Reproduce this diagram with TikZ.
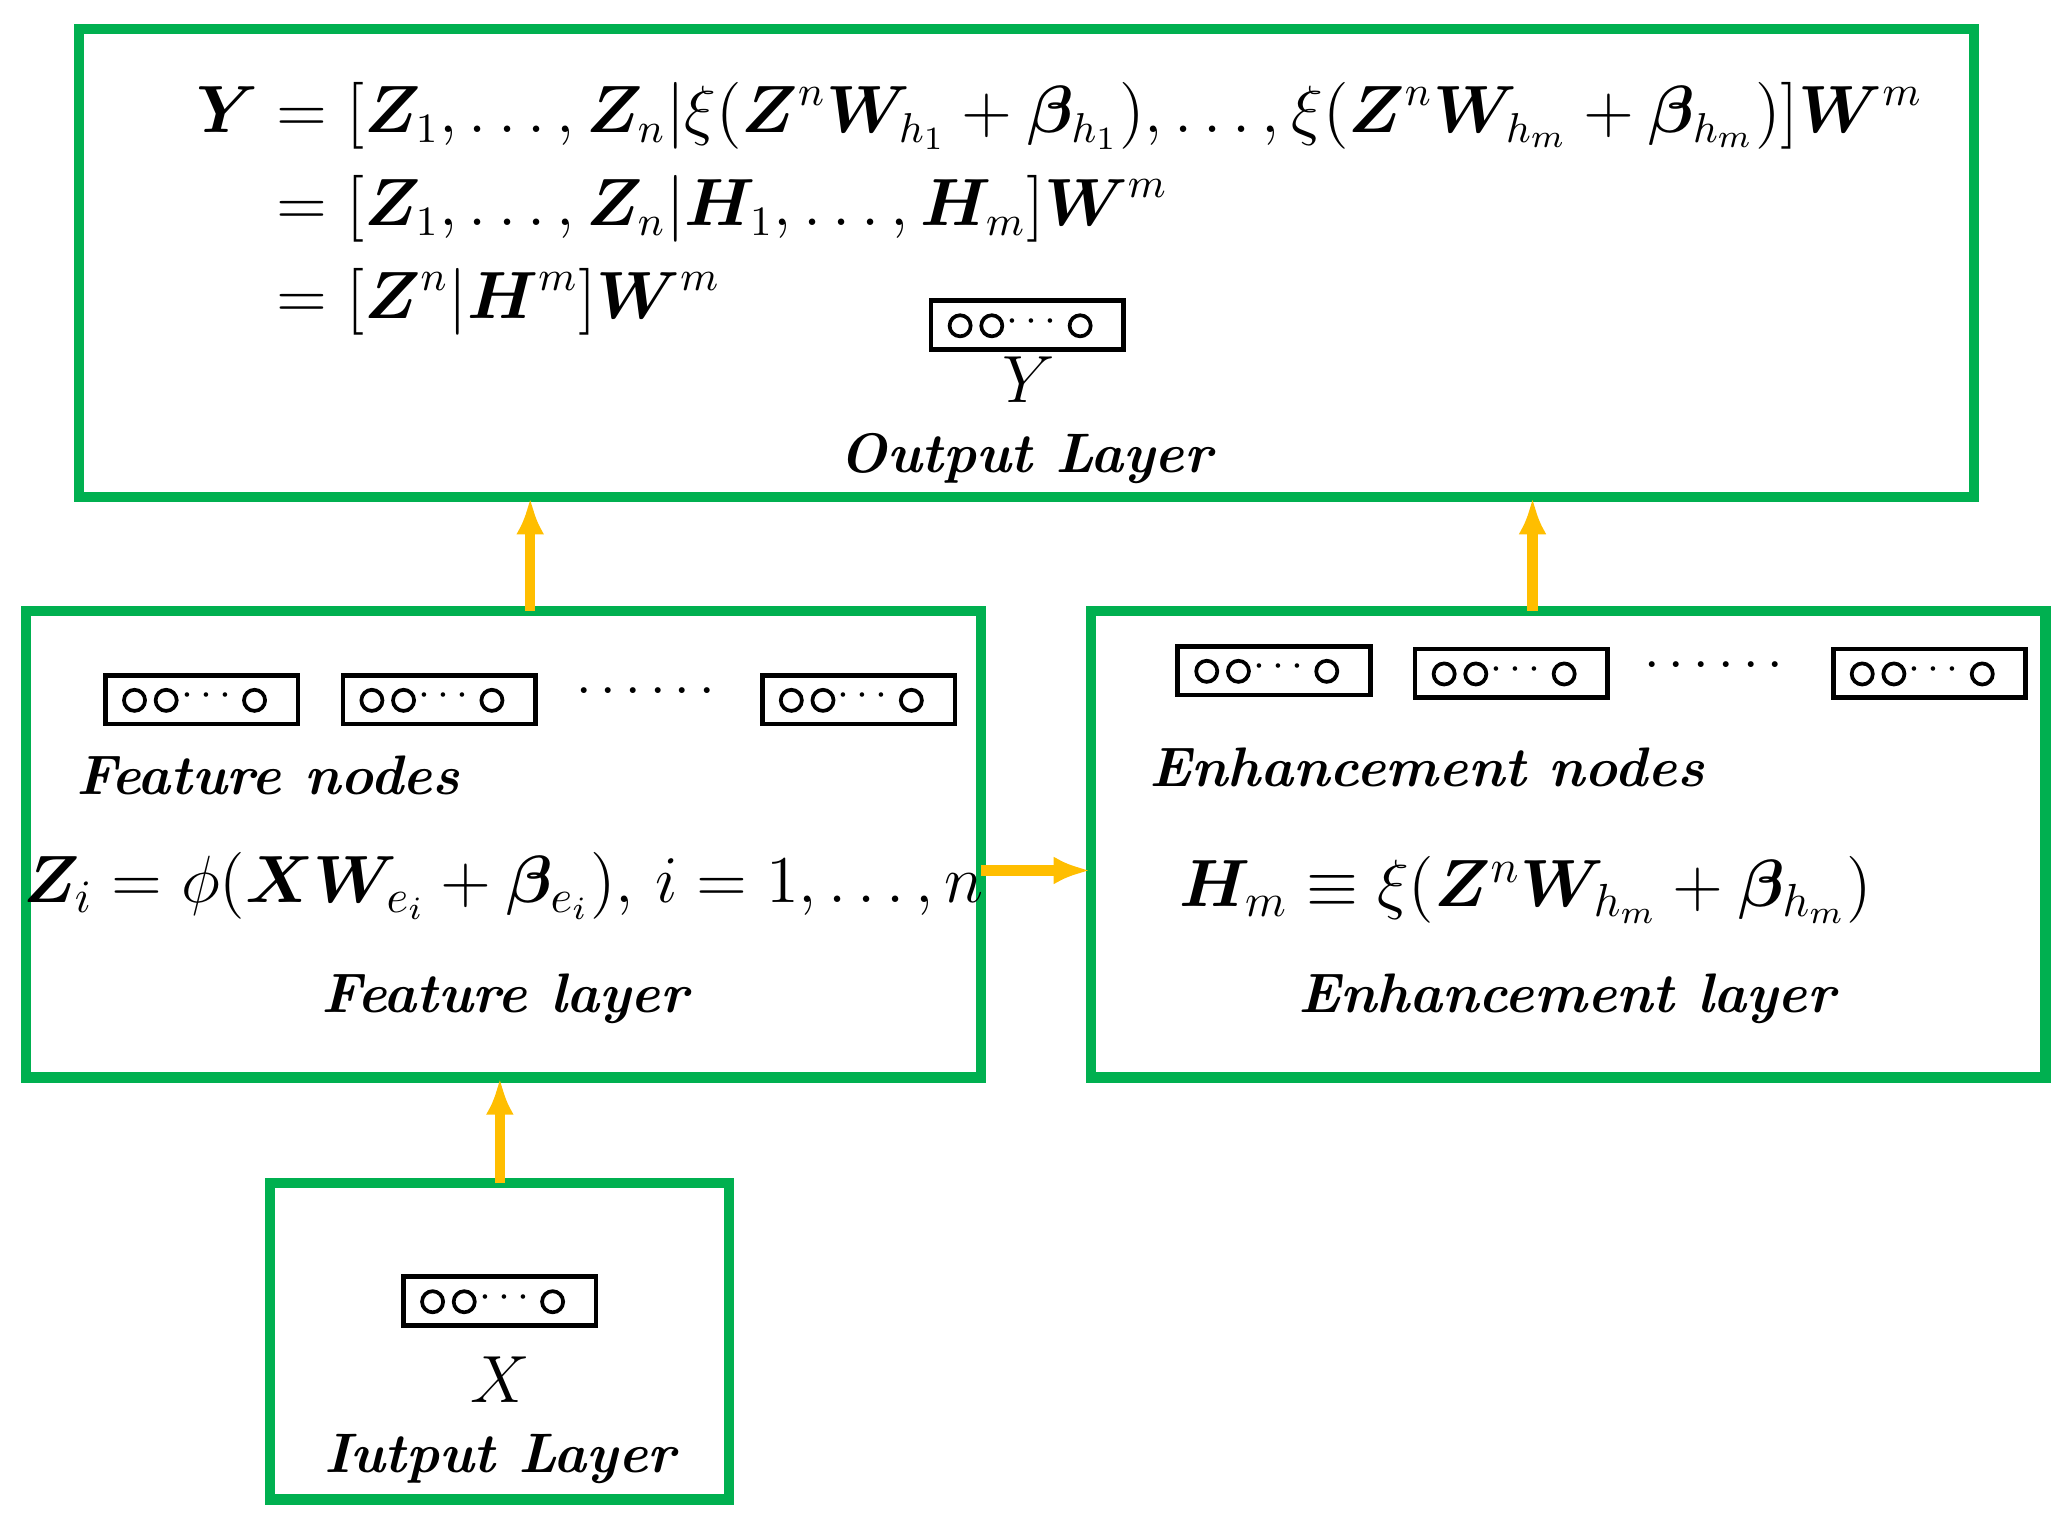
\documentclass[tikz,border=0pt]{standalone}
\usepackage{amsmath,amssymb,bm}
\usetikzlibrary{arrows.meta}
\definecolor{lg}{RGB}{0,176,80}
\definecolor{og}{RGB}{255,190,0}
\begin{document}
\begin{tikzpicture}[x=0.01cm,y=-0.01cm,
  layer/.style={draw=lg,line width=2.2pt},
  arr/.style={draw=og,line width=2.2pt,-{Latex[length=8pt]}},
  lbl/.style={font=\fontsize{12}{14}\selectfont\bfseries\itshape,inner sep=0pt},
  eq/.style={font=\fontsize{14}{17}\selectfont,inner sep=0pt}]
\useasboundingbox (0,0) rectangle (1568,1156);
\newcommand{\nodebox}[3]{%
  \draw[line width=1pt] (#1,#2) rectangle ++(146,37);
  \draw[line width=0.8pt] (#1+22,#2+19) circle (8) (#1+46,#2+19) circle (8) (#1+113,#2+19) circle (8);
  \node[inner sep=0pt,font=\small] (#3) at (#1+79,#2+16) {$\cdots$};}
\draw[layer] (60,22) rectangle (1497,377);
\draw[layer] (20,463) rectangle (744,817);
\draw[layer] (827,463) rectangle (1551,817);
\draw[layer] (205,897) rectangle (553,1137);
\coordinate (o1) at (402,377); \coordinate (f1) at (402,463);
\coordinate (o2) at (1162,377); \coordinate (e1) at (1162,463);
\coordinate (f2) at (379,817); \coordinate (i1) at (379,897);
\coordinate (f3) at (744,660); \coordinate (e2) at (827,660);
\draw[arr] (f1) -- (o1);
\draw[arr] (e1) -- (o2);
\draw[arr] (i1) -- (f2);
\draw[arr] (f3) -- (e2);
\nodebox{706}{228}{by}
\nodebox{80}{512}{bf1}\nodebox{260}{512}{bf2}\nodebox{578}{512}{bf3}
\nodebox{893}{490}{be1}\nodebox{1073}{492}{be2}\nodebox{1390}{492}{be3}
\nodebox{306}{968}{bx}
\node[inner sep=0pt,font=\large] (d1) at (493,525) {$\cdots\cdots$};
\node[inner sep=0pt,font=\large] (d2) at (1303,505) {$\cdots\cdots$};
\node[eq,font=\fontsize{13.5}{17}\selectfont,anchor=north west] (ey) at (148,58) {$\begin{aligned}\bm{Y}&=[\bm{Z}_1,\ldots,\bm{Z}_n|\xi(\bm{Z}^n\bm{W}_{h_1}+\bm{\beta}_{h_1}),\ldots,\xi(\bm{Z}^n\bm{W}_{h_m}+\bm{\beta}_{h_m})]\bm{W}^m\\&=[\bm{Z}_1,\ldots,\bm{Z}_n|\bm{H}_1,\ldots,\bm{H}_m]\bm{W}^m\\&=[\bm{Z}^n|\bm{H}^m]\bm{W}^m\end{aligned}$};
\node[eq] (ly) at (780,288) {$Y$};
\node[lbl] (lo) at (778,348) {Output Layer};
\node[lbl,anchor=west] (lf) at (57,588) {Feature nodes};
\node[eq] (ez) at (382,672) {$\bm{Z}_i=\phi(\bm{X}\bm{W}_{e_i}+\bm{\beta}_{e_i}),\,i=1,\ldots,n$};
\node[lbl] (lfl) at (383,757) {Feature layer};
\node[lbl,anchor=west] (le) at (871,582) {Enhancement nodes};
\node[eq] (eh) at (1157,675) {$\bm{H}_m\equiv\xi(\bm{Z}^n\bm{W}_{h_m}+\bm{\beta}_{h_m})$};
\node[lbl] (lel) at (1188,757) {Enhancement layer};
\node[eq] (lx) at (379,1046) {$X$};
\node[lbl] (li) at (379,1106) {Iutput Layer};
\end{tikzpicture}
\end{document}
